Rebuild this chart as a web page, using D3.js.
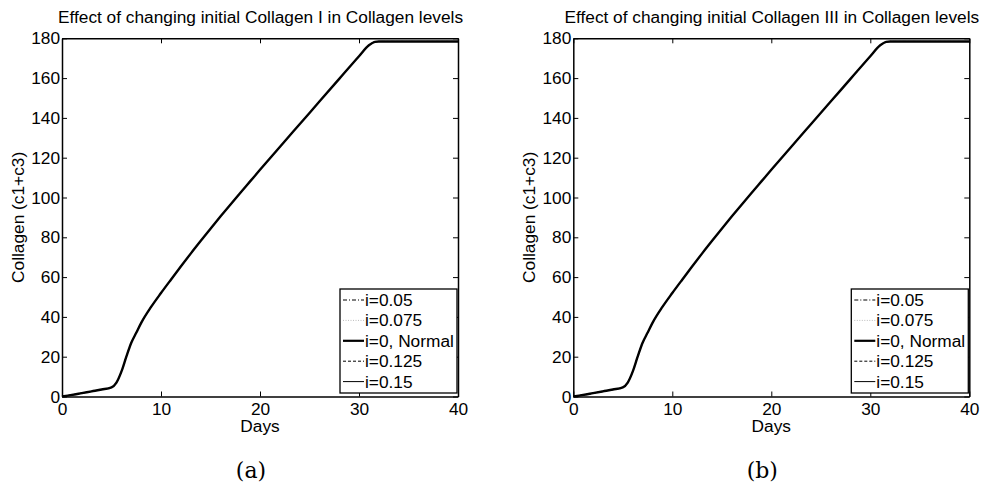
<!DOCTYPE html>
<html>
<head>
<meta charset="utf-8">
<script src="https://cdn.jsdelivr.net/npm/d3@7"></script>
<style>
  body { margin: 0; background: #fff; }
  svg { display: block; }
</style>
</head>
<body>
<svg id="chart"></svg>
<script>
/* Two MATLAB-style panels: collagen (c1+c3) against days for
 * five initial-collagen settings. The five runs overlap almost exactly.
 */
(function () {
    "use strict";

    // ---- data ----
    var days = [0, 1, 2, 3, 4, 5, 5.5, 6, 6.5, 7, 7.5, 8, 9, 10, 11, 12, 13, 14, 15, 16,
        17, 18, 19, 20, 22, 24, 26, 28, 30, 31, 31.6, 32, 36, 40];
    var collagenA = [0, 0.8, 1.7, 2.6, 3.5, 4.6, 7, 12.5, 20, 27, 32, 37, 45, 52, 58.7, 65.3, 71.8, 78.1, 84.3, 90.4,
        96.4, 102.3, 108.1, 113.9, 125.4, 136.8, 148.2, 159.6, 171, 176.5, 178.2, 178.4, 178.4, 178.4];
    var collagenB = [0, 0.8, 1.7, 2.6, 3.5, 4.6, 7, 12.5, 20, 27, 32, 37, 45, 52, 58.7, 65.3, 71.8, 78.1, 84.3, 90.4,
        96.4, 102.3, 108.1, 113.9, 125.4, 136.8, 148.2, 159.6, 171, 176.5, 178.2, 178.4, 178.4, 178.4];

    var seriesLabels = ["i=0.05", "i=0.075", "i=0, Normal", "i=0.125", "i=0.15"];
    var panelTitles = [
        "Effect of changing initial Collagen I in Collagen levels",
        "Effect of changing initial Collagen III in Collagen levels"
    ];
    var panelCaptions = ["(a)", "(b)"];
    var panelValues = [collagenA, collagenB];
    var xTicks = [0, 10, 20, 30, 40];
    var yTicks = [0, 20, 40, 60, 80, 100, 120, 140, 160, 180];

    // line styles per series (dash-dot, dotted grey, thick, dashed, thin)
    var seriesStyle = [
        { stroke: "#000", width: 1, dash: "4,2,1,2" },
        { stroke: "#bbb", width: 1, dash: "1,1.5" },
        { stroke: "#000", width: 2.2, dash: null },
        { stroke: "#000", width: 1, dash: "3,2" },
        { stroke: "#000", width: 1, dash: null }
    ];

    var width = 984, height = 487;
    var font = "'Liberation Sans', Arial, sans-serif";
    var fs = 17.3;

    var svg = d3.select("#chart")
        .attr("width", width)
        .attr("height", height)
        .attr("viewBox", "0 0 " + width + " " + height);

    var panels = [
        { left: 62, right: 458 },
        { left: 573.3, right: 969.3 }
    ];
    var top = 38.3, bottom = 396.5;

    panels.forEach(function (p, pi) {
        var x = d3.scaleLinear().domain([0, 40]).range([p.left, p.right]);
        var y = d3.scaleLinear().domain([0, 180]).range([bottom, top]);
        var g = svg.append("g");
        var vals = panelValues[pi];
        var pts = days.map(function (d, i) { return [d, vals[i]]; });

        var line = d3.line()
            .x(function (d) { return x(d[0]); })
            .y(function (d) { return y(d[1]); })
            .curve(d3.curveMonotoneX);

        var lines = g.append("g").attr("fill", "none");
        seriesLabels.forEach(function (lab, si) {
            var s = seriesStyle[si];
            lines.append("path")
                .attr("d", line(pts))
                .attr("stroke", s.stroke)
                .attr("stroke-width", si === 2 ? 2.4 : s.width)
                .attr("stroke-dasharray", s.dash);
        });

        function styleAxis(sel) {
            sel.selectAll("path.domain").attr("stroke", "#000").attr("stroke-width", 1.5);
            sel.selectAll(".tick line").attr("stroke", "#000").attr("stroke-width", 1);
            sel.selectAll("text")
                .attr("fill", "#000")
                .style("font-family", font)
                .style("font-size", fs + "px");
        }

        g.append("g")
            .attr("transform", "translate(0," + bottom + ")")
            .call(d3.axisBottom(x).tickValues(xTicks).tickSizeInner(-5).tickSizeOuter(0).tickPadding(6))
            .call(styleAxis);
        g.append("g")
            .attr("transform", "translate(0," + top + ")")
            .call(d3.axisTop(x).tickValues(xTicks).tickSizeInner(-5).tickSizeOuter(0).tickFormat(""))
            .call(styleAxis);
        g.append("g")
            .attr("transform", "translate(" + p.left + ",0)")
            .call(d3.axisLeft(y).tickValues(yTicks).tickSizeInner(-5).tickSizeOuter(0).tickPadding(2))
            .call(styleAxis);
        g.append("g")
            .attr("transform", "translate(" + p.right + ",0)")
            .call(d3.axisRight(y).tickValues(yTicks).tickSizeInner(-5).tickSizeOuter(0).tickFormat(""))
            .call(styleAxis);

        // title, axis labels, caption
        var cx = (p.left + p.right) / 2;
        g.append("text")
            .attr("x", cx + 0.5).attr("y", 23)
            .attr("text-anchor", "middle")
            .style("font-family", font).style("font-size", fs + "px")
            .text(panelTitles[pi]);
        g.append("text")
            .attr("x", cx).attr("y", 432)
            .attr("text-anchor", "middle")
            .style("font-family", font).style("font-size", fs + "px")
            .text("Days");
        g.append("text")
            .attr("transform", "translate(" + (p.left - 38) + "," + ((top + bottom) / 2) + ") rotate(-90)")
            .attr("text-anchor", "middle")
            .style("font-family", font).style("font-size", fs + "px")
            .text("Collagen (c1+c3)");
        g.append("text")
            .attr("x", cx - 9).attr("y", 478)
            .attr("text-anchor", "middle")
            .style("font-family", "'DejaVu Serif', serif").style("font-size", "22px")
            .text(panelCaptions[pi]);

        // legend box in the lower right corner
        var lx = p.right - 118, ly = 289, lw = 117, lh = 104;
        var leg = g.append("g");
        leg.append("rect")
            .attr("x", lx).attr("y", ly).attr("width", lw).attr("height", lh)
            .attr("fill", "#fff").attr("stroke", "#000").attr("stroke-width", 1.3);
        seriesLabels.forEach(function (lab, si) {
            var s = seriesStyle[si];
            var ry = ly + 11 + si * 20.4;
            leg.append("line")
                .attr("x1", lx + 3).attr("x2", lx + 24)
                .attr("y1", ry).attr("y2", ry)
                .attr("stroke", s.stroke)
                .attr("stroke-width", s.width)
                .attr("stroke-dasharray", s.dash);
            leg.append("text")
                .attr("x", lx + 25).attr("y", ry)
                .attr("dy", "0.35em")
                .style("font-family", font).style("font-size", fs + "px")
                .text(lab);
        });
    });
})();
</script>
</body>
</html>
